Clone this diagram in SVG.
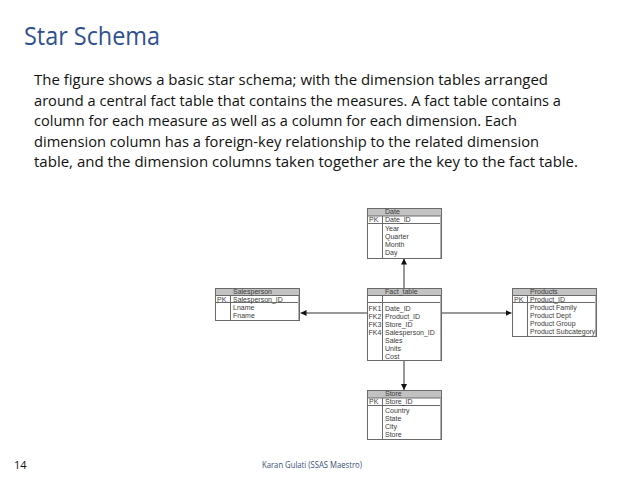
<svg xmlns="http://www.w3.org/2000/svg" width="638" height="478" viewBox="0 0 638 478">
<style>
.title{font-family:"Open Sans","Liberation Sans",sans-serif;font-size:26px;fill:#2F5090}
.body{font-family:"Open Sans","Liberation Sans",sans-serif;font-size:15px;fill:#111}
.foot{font-family:"Open Sans","Liberation Sans",sans-serif;font-size:8.5px;fill:#3A4F7A}
.num{font-family:"Open Sans","Liberation Sans",sans-serif;font-size:11px;fill:#111}
.tb{fill:#fff;stroke:#6a6a6a;stroke-width:1}
.hd{fill:#c2c2c2;stroke:#6a6a6a;stroke-width:1}
.ln{stroke:#6a6a6a;stroke-width:1;fill:none}
.sh{stroke:#b0b0b0;stroke-width:1;fill:none}
.t{font-family:"Liberation Sans",Arial,sans-serif;font-size:7px;fill:#3a3a3a}
.con{stroke:#333;stroke-width:1;fill:none;marker-end:url(#ah)}
</style>
<defs>
<marker id="ah" viewBox="0 0 10 10" refX="10" refY="5" markerWidth="6" markerHeight="6" markerUnits="userSpaceOnUse" orient="auto">
<path d="M0,0 L10,5 L0,10 z" fill="#111"/>
</marker>
</defs>
<rect width="638" height="478" fill="#fff"/>
<text class="title" x="24" y="45" textLength="136" lengthAdjust="spacingAndGlyphs">Star Schema</text>
<g id="body-text">
<text class="body" x="34" y="85" textLength="514" lengthAdjust="spacingAndGlyphs">The figure shows a basic star schema; with the dimension tables arranged</text>
<text class="body" x="34" y="105.5" textLength="527" lengthAdjust="spacingAndGlyphs">around a central fact table that contains the measures. A fact table contains a</text>
<text class="body" x="34" y="126" textLength="483" lengthAdjust="spacingAndGlyphs">column for each measure as well as a column for each dimension. Each</text>
<text class="body" x="34" y="146.5" textLength="505" lengthAdjust="spacingAndGlyphs">dimension column has a foreign-key relationship to the related dimension</text>
<text class="body" x="34" y="167" textLength="544" lengthAdjust="spacingAndGlyphs">table, and the dimension columns taken together are the key to the fact table.</text>
</g>
<g id="connectors">
<line class="con" x1="404" y1="288" x2="404" y2="258.5"/>
<line class="con" x1="404" y1="361" x2="404" y2="390"/>
<line class="con" x1="367" y1="313" x2="300.5" y2="313"/>
<line class="con" x1="442" y1="313" x2="511.5" y2="313"/>
</g>
<g id="date">
<rect class="tb" x="367.5" y="208.5" width="74" height="50"/>
<rect class="hd" x="367.5" y="208.5" width="74" height="7.5"/>
<line class="ln" x1="367.5" y1="223.5" x2="441.5" y2="223.5"/>
<line class="ln" x1="382.5" y1="216" x2="382.5" y2="258.5"/>
<line class="sh" x1="440.5" y1="216" x2="440.5" y2="258"/>
<text class="t" x="385" y="214">Date</text>
<text class="t" x="369" y="222">PK</text>
<text class="t" x="385" y="222">Date_ID</text>
<text class="t" x="385" y="230.5">Year</text>
<text class="t" x="385" y="238.5">Quarter</text>
<text class="t" x="385" y="246.5">Month</text>
<text class="t" x="385" y="254.5">Day</text>
</g>
<g id="fact">
<rect class="tb" x="367.5" y="288.5" width="74" height="72"/>
<rect class="hd" x="367.5" y="288.5" width="74" height="7"/>
<line class="ln" x1="367.5" y1="302.5" x2="441.5" y2="302.5"/>
<line class="ln" x1="382.5" y1="295.5" x2="382.5" y2="360.5"/>
<line class="sh" x1="440.5" y1="296" x2="440.5" y2="360"/>
<text class="t" x="385" y="293.5">Fact_table</text>
<text class="t" x="368.5" y="310.5">FK1</text>
<text class="t" x="385" y="310.5">Date_ID</text>
<text class="t" x="368.5" y="318.5">FK2</text>
<text class="t" x="385" y="318.5">Product_ID</text>
<text class="t" x="368.5" y="326.5">FK3</text>
<text class="t" x="385" y="326.5">Store_ID</text>
<text class="t" x="368.5" y="334.5">FK4</text>
<text class="t" x="385" y="334.5">Salesperson_ID</text>
<text class="t" x="385" y="342.5">Sales</text>
<text class="t" x="385" y="350.5">Units</text>
<text class="t" x="385" y="358.5">Cost</text>
</g>
<g id="salesperson">
<rect class="tb" x="215.5" y="288.5" width="84" height="32"/>
<rect class="hd" x="215.5" y="288.5" width="84" height="7"/>
<line class="ln" x1="215.5" y1="302.5" x2="299.5" y2="302.5"/>
<line class="ln" x1="230.5" y1="295.5" x2="230.5" y2="320.5"/>
<line class="sh" x1="298.5" y1="296" x2="298.5" y2="320"/>
<text class="t" x="233" y="293.5">Salesperson</text>
<text class="t" x="217" y="301.5">PK</text>
<text class="t" x="233" y="301.5">Salesperson_ID</text>
<text class="t" x="233" y="310">Lname</text>
<text class="t" x="233" y="318">Fname</text>
</g>
<g id="products">
<rect class="tb" x="512.5" y="288.5" width="84" height="48"/>
<rect class="hd" x="512.5" y="288.5" width="84" height="7"/>
<line class="ln" x1="512.5" y1="302.5" x2="596.5" y2="302.5"/>
<line class="ln" x1="527.5" y1="295.5" x2="527.5" y2="336.5"/>
<line class="sh" x1="595.5" y1="296" x2="595.5" y2="336"/>
<text class="t" x="530" y="293.5">Products</text>
<text class="t" x="514" y="301.5">PK</text>
<text class="t" x="530" y="301.5">Product_ID</text>
<text class="t" x="530" y="310">Product Family</text>
<text class="t" x="530" y="318">Product Dept</text>
<text class="t" x="530" y="326">Product Group</text>
<text class="t" x="530" y="334">Product Subcategory</text>
</g>
<g id="store">
<rect class="tb" x="367.5" y="390.5" width="74" height="49"/>
<rect class="hd" x="367.5" y="390.5" width="74" height="7.5"/>
<line class="ln" x1="367.5" y1="405.5" x2="441.5" y2="405.5"/>
<line class="ln" x1="382.5" y1="398" x2="382.5" y2="439.5"/>
<line class="sh" x1="440.5" y1="398" x2="440.5" y2="439"/>
<text class="t" x="385" y="396">Store</text>
<text class="t" x="369" y="404">PK</text>
<text class="t" x="385" y="404">Store_ID</text>
<text class="t" x="385" y="413">Country</text>
<text class="t" x="385" y="421">State</text>
<text class="t" x="385" y="429">City</text>
<text class="t" x="385" y="437">Store</text>
</g>
<text class="num" x="14" y="469">14</text>
<text class="foot" x="262" y="468" textLength="100" lengthAdjust="spacingAndGlyphs">Karan Gulati (SSAS Maestro)</text>
</svg>
